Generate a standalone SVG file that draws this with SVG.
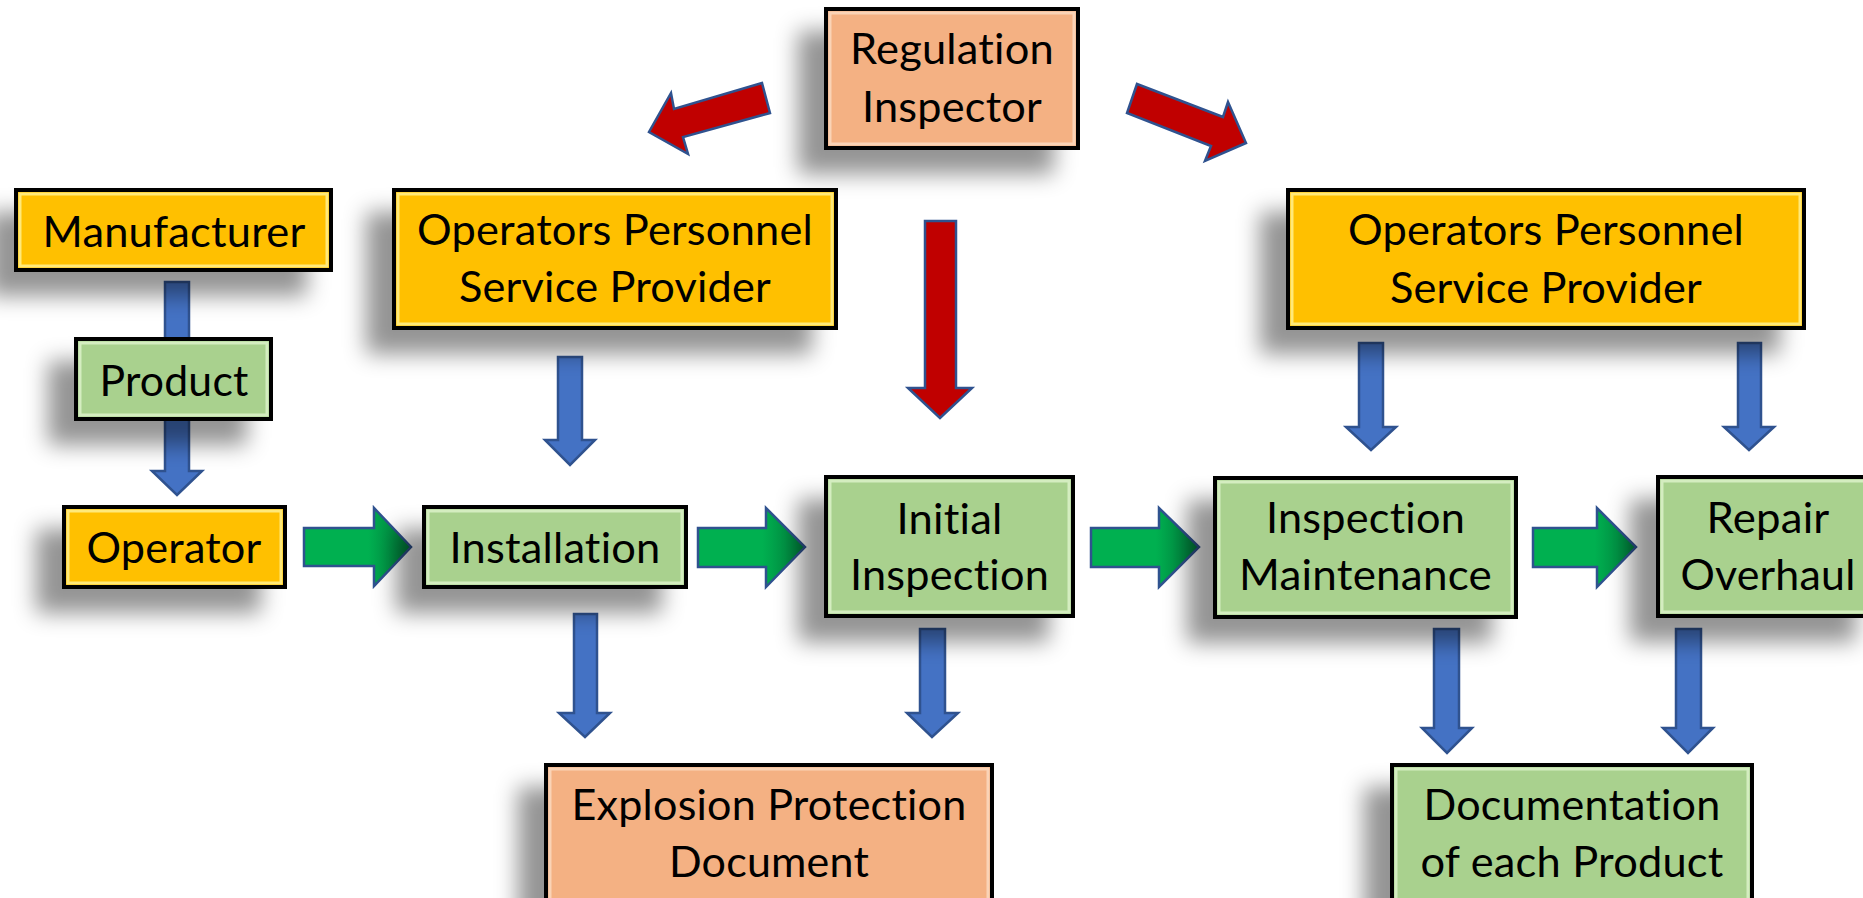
<svg xmlns="http://www.w3.org/2000/svg" width="1863" height="898" viewBox="0 0 1863 898">
  <defs>
    <filter id="shadow" filterUnits="userSpaceOnUse" x="-100" y="-100" width="2100" height="1150">
      <feDropShadow dx="-26" dy="24" stdDeviation="11" flood-color="#000" flood-opacity="0.42"/>
    </filter>
    <linearGradient id="greenGrad" x1="0" y1="0" x2="1" y2="0">
      <stop offset="0" stop-color="#00B050"/>
      <stop offset="0.6" stop-color="#00B050"/>
      <stop offset="1" stop-color="#007A3A"/>
    </linearGradient>
    <style>
      .box { stroke: #000; stroke-width: 4; filter: url(#shadow); }
      .yellow { fill: #FFC000; }
      .green { fill: #A9D18E; }
      .salmon { fill: #F4B183; }
      .bevel { fill: none; stroke-width: 3; }
      .bev-y { stroke: #FFE97A; }
      .bev-g { stroke: #D4EDC0; }
      .bev-s { stroke: #FAD3B6; }
      .lbl { font-family: Lato, "Liberation Sans", sans-serif; font-size: 43px; fill: #000; text-anchor: middle; letter-spacing: 0.2px; font-variant-ligatures: no-common-ligatures no-discretionary-ligatures no-contextual; font-feature-settings: "liga" 0, "clig" 0, "dlig" 0, "calt" 0; }
      .blue { fill: #4472C4; stroke: #2F528F; stroke-width: 2.5; stroke-linejoin: miter; }
      .red { fill: #C00000; stroke: #2F528F; stroke-width: 2.5; stroke-linejoin: miter; }
      .garrow { fill: url(#greenGrad); stroke: #2F528F; stroke-width: 2.5; stroke-linejoin: miter; }
    </style>
  </defs>
  <rect width="1863" height="898" fill="#fff"/>

  <g id="connectors">
    <!-- blue down arrows -->
    <polygon class="blue" points="165,282 189,282 189,360 165,360"/>
    <polygon class="blue" points="165,412 189,412 189,471 202,471 177,495 152,471 165,471"/>
    <polygon class="blue" points="558,357 582,357 582,440 595,440 570,465 545,440 558,440"/>
    <polygon class="blue" points="1359,343 1383,343 1383,427 1396,427 1371,450 1346,427 1359,427"/>
    <polygon class="blue" points="1738,343 1761,343 1761,427 1774,427 1749,450 1724,427 1738,427"/>
    <polygon class="blue" points="574,614 597,614 597,713 610,713 585,737 559,713 574,713"/>
    <polygon class="blue" points="920,629 945,629 945,713 958,713 932,737 907,713 920,713"/>
    <polygon class="blue" points="1434,629 1459,629 1459,728 1472,728 1447,753 1422,728 1434,728"/>
    <polygon class="blue" points="1676,629 1701,629 1701,728 1713,728 1688,753 1663,728 1676,728"/>
    <!-- red arrows -->
    <polygon class="red" points="925,221 956,221 956,388 972,388 940,418 908,388 925,388"/>
    <polygon class="red" points="762,83 674,109 671,93 649,132 688,154 683,137 770,113"/>
    <polygon class="red" points="1137,84 1223,117 1228,102 1246,143 1205,161 1211,146 1127,113"/>
    <!-- green right arrows -->
    <polygon class="garrow" points="304,528 374,528 374,508 411,547 374,586 374,566 304,566"/>
    <polygon class="garrow" points="698,528 766,528 766,508 805,547 766,587 766,567 698,567"/>
    <polygon class="garrow" points="1091,528 1159,528 1159,508 1199,547 1159,587 1159,567 1091,567"/>
    <polygon class="garrow" points="1533,528 1597,528 1597,508 1636,547 1597,587 1597,567 1533,567"/>
  </g>

  <g id="regulation-inspector">
    <rect class="box salmon" x="826" y="9" width="252" height="139"/>
    <rect class="bevel bev-s" x="830" y="13" width="244" height="131"/>
    <text class="lbl" x="952" y="64" textLength="204" lengthAdjust="spacingAndGlyphs">Regulation</text>
    <text class="lbl" x="952" y="122" textLength="180" lengthAdjust="spacingAndGlyphs">Inspector</text>
  </g>

  <g id="manufacturer">
    <rect class="box yellow" x="16" y="190" width="315" height="80"/>
    <rect class="bevel bev-y" x="20" y="194" width="307" height="72"/>
    <text class="lbl" x="174" y="247" textLength="263" lengthAdjust="spacingAndGlyphs">Manufacturer</text>
  </g>

  <g id="product">
    <rect class="box green" x="76" y="339" width="195" height="80"/>
    <rect class="bevel bev-g" x="80" y="343" width="187" height="72"/>
    <text class="lbl" x="174" y="396" textLength="149" lengthAdjust="spacingAndGlyphs">Product</text>
  </g>

  <g id="operator">
    <rect class="box yellow" x="64" y="507" width="221" height="80"/>
    <rect class="bevel bev-y" x="68" y="511" width="213" height="72"/>
    <text class="lbl" x="174" y="563" textLength="175" lengthAdjust="spacingAndGlyphs">Operator</text>
  </g>

  <g id="ops-provider-left">
    <rect class="box yellow" x="394" y="190" width="442" height="138"/>
    <rect class="bevel bev-y" x="398" y="194" width="434" height="130"/>
    <text class="lbl" x="615" y="245" textLength="396" lengthAdjust="spacingAndGlyphs">Operators Personnel</text>
    <text class="lbl" x="615" y="302" textLength="312" lengthAdjust="spacingAndGlyphs">Service Provider</text>
  </g>

  <g id="ops-provider-right">
    <rect class="box yellow" x="1288" y="190" width="516" height="138"/>
    <rect class="bevel bev-y" x="1292" y="194" width="508" height="130"/>
    <text class="lbl" x="1546" y="245" textLength="396" lengthAdjust="spacingAndGlyphs">Operators Personnel</text>
    <text class="lbl" x="1546" y="303" textLength="312" lengthAdjust="spacingAndGlyphs">Service Provider</text>
  </g>

  <g id="installation">
    <rect class="box green" x="424" y="507" width="262" height="80"/>
    <rect class="bevel bev-g" x="428" y="511" width="254" height="72"/>
    <text class="lbl" x="555" y="563" textLength="211" lengthAdjust="spacingAndGlyphs">Installation</text>
  </g>

  <g id="initial-inspection">
    <rect class="box green" x="826" y="477" width="247" height="139"/>
    <rect class="bevel bev-g" x="830" y="481" width="239" height="131"/>
    <text class="lbl" x="949.500" y="534" textLength="106" lengthAdjust="spacingAndGlyphs">Initial</text>
    <text class="lbl" x="949.500" y="590" textLength="199" lengthAdjust="spacingAndGlyphs">Inspection</text>
  </g>

  <g id="inspection-maintenance">
    <rect class="box green" x="1215" y="478" width="301" height="139"/>
    <rect class="bevel bev-g" x="1219" y="482" width="293" height="131"/>
    <text class="lbl" x="1365.500" y="533" textLength="199" lengthAdjust="spacingAndGlyphs">Inspection</text>
    <text class="lbl" x="1365.500" y="590" textLength="253" lengthAdjust="spacingAndGlyphs">Maintenance</text>
  </g>

  <g id="repair-overhaul">
    <rect class="box green" x="1658" y="477" width="222" height="139"/>
    <rect class="bevel bev-g" x="1662" y="481" width="214" height="131"/>
    <text class="lbl" x="1768" y="533" textLength="123" lengthAdjust="spacingAndGlyphs">Repair</text>
    <text class="lbl" x="1768" y="590" textLength="175" lengthAdjust="spacingAndGlyphs">Overhaul</text>
  </g>

  <g id="explosion-protection-document">
    <rect class="box salmon" x="546" y="765" width="446" height="160"/>
    <rect class="bevel bev-s" x="550" y="769" width="438" height="152"/>
    <text class="lbl" x="769" y="820" textLength="395" lengthAdjust="spacingAndGlyphs">Explosion Protection</text>
    <text class="lbl" x="769" y="877" textLength="200" lengthAdjust="spacingAndGlyphs">Document</text>
  </g>

  <g id="documentation">
    <rect class="box green" x="1392" y="765" width="360" height="160"/>
    <rect class="bevel bev-g" x="1396" y="769" width="352" height="152"/>
    <text class="lbl" x="1572" y="820" textLength="297" lengthAdjust="spacingAndGlyphs">Documentation</text>
    <text class="lbl" x="1572" y="877" textLength="303" lengthAdjust="spacingAndGlyphs">of each Product</text>
  </g>
</svg>
